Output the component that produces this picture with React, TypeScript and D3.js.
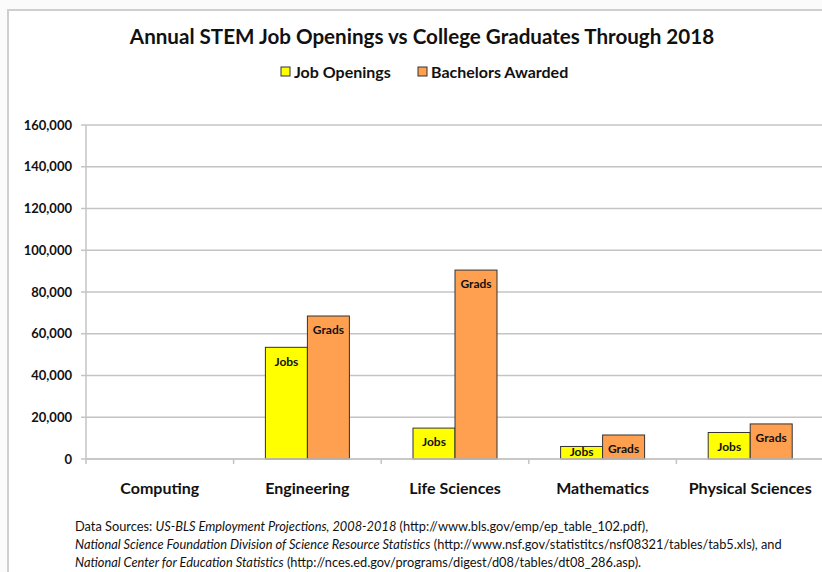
import React from "react";
import * as d3 from "d3";

const categories = ["Computing", "Engineering", "Life Sciences", "Mathematics", "Physical Sciences"];
const jobOpenings = [0, 53500, 14800, 6000, 12700];
const bachelorsAwarded = [0, 68500, 90500, 11500, 16800];
const yTicks = [0, 20000, 40000, 60000, 80000, 100000, 120000, 140000, 160000];
const seriesNames = ["Job Openings", "Bachelors Awarded"];
const barLabels = ["Jobs", "Grads"];
const seriesColors = ["#FFFF00", "#FF9F50"];

const FONT = "Lato, 'Open Sans', sans-serif";

export default function App() {
  const W = 822, H = 572;
  const left = 86, right = 824, top = 125, bottom = 459;
  const x = d3.scaleBand<string>().domain(categories).range([left, right]).paddingInner(0).paddingOuter(0);
  const xs = d3.scaleBand<string>().domain(["0", "1"]).range([0, x.bandwidth()]).paddingInner(0).paddingOuter(0.757);
  const y = d3.scaleLinear().domain([0, 160000]).range([bottom, top]);
  const fmt = d3.format(",");
  const series = [jobOpenings, bachelorsAwarded];
  const grid = "#c4c4c4";

  return (
    <svg width={W} height={H} style={{ position: "absolute", left: 0, top: 0, display: "block", background: "#fbfbfb" }} fontFamily={FONT}>
      <rect x={8} y={10} width={W + 10} height={H + 10} fill="#ffffff" stroke="#cfcfcf" strokeWidth={2} />
      <text x={422} y={44} textAnchor="middle" fontSize={20.6} fontWeight="bold" fill="#111">
        Annual STEM Job Openings vs College Graduates Through 2018
      </text>
      {/* legend */}
      <g fontSize={16} fontWeight="bold" fill="#111">
        <rect x={281} y={67} width={9} height={9} fill={seriesColors[0]} stroke="#333" strokeWidth={1} />
        <text x={294} y={77.5}>{seriesNames[0]}</text>
        <rect x={418} y={67} width={9} height={9} fill={seriesColors[1]} stroke="#333" strokeWidth={1} />
        <text x={431} y={77.5}>{seriesNames[1]}</text>
      </g>
      {/* grid */}
      {yTicks.map((t) => (
        <g key={t}>
          <line x1={left} x2={right} y1={y(t)} y2={y(t)} stroke={grid} strokeWidth={1.5} />
          <line x1={81} x2={left} y1={y(t)} y2={y(t)} stroke={grid} strokeWidth={1.5} />
          <text x={72} y={y(t)} dy="0.35em" textAnchor="end" fontSize={13} fontWeight="bold" fill="#111">
            {fmt(t)}
          </text>
        </g>
      ))}
      <line x1={left} x2={left} y1={top} y2={bottom + 5} stroke={grid} strokeWidth={1.5} />
      {categories.map((c) => (
        <line key={c} x1={(x(c) as number) + x.bandwidth()} x2={(x(c) as number) + x.bandwidth()} y1={bottom} y2={bottom + 5} stroke={grid} strokeWidth={1.5} />
      ))}
      {/* bars */}
      {categories.map((c, i) => (
        <g key={c}>
          {series.map((s, k) => {
            const v = s[i];
            if (!v) return null;
            const bx = (x(c) as number) + (xs(String(k)) as number);
            const by = y(v);
            const ly = Math.min(by + 14, bottom - 7);
            return (
              <g key={k}>
                <rect x={bx} y={by} width={xs.bandwidth()} height={bottom - by} fill={seriesColors[k]} stroke="#333" strokeWidth={1} />
                <text x={bx + xs.bandwidth() / 2} y={ly} dy="0.35em" textAnchor="middle" fontSize={12} fontWeight="bold" fill="#111">
                  {barLabels[k]}
                </text>
              </g>
            );
          })}
          <text x={(x(c) as number) + x.bandwidth() / 2} y={488} dy="0.35em" textAnchor="middle" fontSize={16} fontWeight="bold" fill="#111">
            {c}
          </text>
        </g>
      ))}
      <line x1={left} x2={right} y1={bottom} y2={bottom} stroke={grid} strokeWidth={1.5} />
      {/* footer */}
      <g fontSize={12.8} fill="#111">
        <text x={75} y={531}>
          Data Sources: <tspan fontStyle="italic">US-BLS Employment Projections, 2008-2018</tspan> (http://www.bls.gov/emp/ep_table_102.pdf),
        </text>
        <text x={75} y={549}>
          <tspan fontStyle="italic">National Science Foundation Division of Science Resource Statistics</tspan> (http://www.nsf.gov/statistitcs/nsf08321/tables/tab5.xls), and
        </text>
        <text x={75} y={567}>
          <tspan fontStyle="italic">National Center for Education Statistics</tspan> (http://nces.ed.gov/programs/digest/d08/tables/dt08_286.asp).
        </text>
      </g>
    </svg>
  );
}
